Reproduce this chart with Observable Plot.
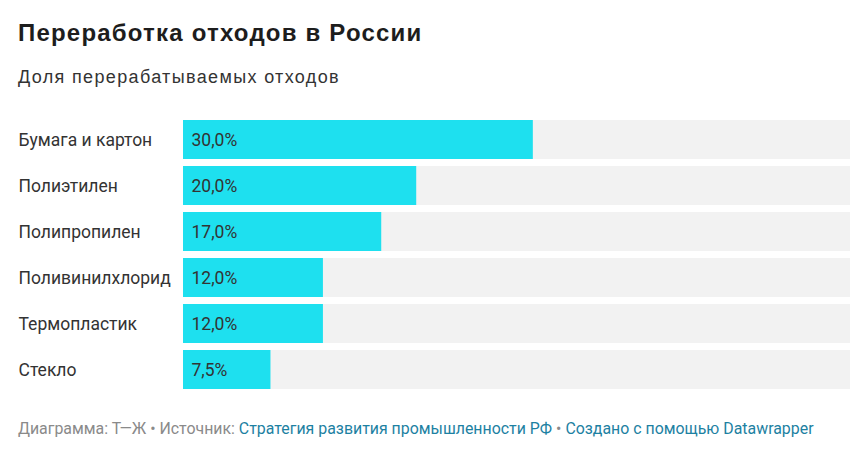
<!DOCTYPE html>
<html><head><meta charset="utf-8">
<script src="https://cdn.jsdelivr.net/npm/d3@7"></script>
<script src="https://cdn.jsdelivr.net/npm/@observablehq/plot@0.6"></script>
<style>
body{margin:0;background:#fff;font-family:Roboto,"Noto Sans",sans-serif;}
#wrap{width:850px;height:457px;position:relative;overflow:hidden}
#title{position:absolute;left:18px;top:20px;font-family:"Liberation Sans",Arial,sans-serif;font-size:24px;font-weight:700;letter-spacing:1.2px;color:#1d1d1d;white-space:nowrap;line-height:26px}
#sub{position:absolute;left:18px;top:66px;font-family:"Liberation Sans",Arial,sans-serif;font-size:18px;letter-spacing:1.35px;color:#333;white-space:nowrap;line-height:22px}
#chart{position:absolute;left:0;top:110px}
#foot{position:absolute;left:18px;top:419px;font-size:15.9px;color:#8a8a8a;white-space:nowrap;line-height:20px}
#foot a{color:#1d81a2;text-decoration:none}
</style></head>
<body><div id="wrap">
<div id="title">Переработка отходов в России</div>
<div id="sub">Доля перерабатываемых отходов</div>
<div id="chart"></div>
<div id="foot">Диаграмма: Т—Ж • Источник: <a>Стратегия развития промышленности РФ</a> • <a>Создано с помощью Datawrapper</a></div>
</div>
<script>
const categories = ["Бумага и картон","Полиэтилен","Полипропилен","Поливинилхлорид","Термопластик","Стекло"];
const values = [30.0, 20.0, 17.0, 12.0, 12.0, 7.5];
const valueLabels = ["30,0%","20,0%","17,0%","12,0%","12,0%","7,5%"];
const xMax = 57.2;

const data = categories.map((c,i)=>({cat:c, v:values[i], label:valueLabels[i]}));

const chart = Plot.plot({
  width: 850, height: 290,
  marginLeft: 183, marginRight: 0, marginTop: 10, marginBottom: 10,
  style:{fontFamily:"Roboto, sans-serif", fontSize:"17.5px"},
  x:{domain:[0,xMax], axis:null},
  y:{domain:categories, axis:null, paddingInner:0.15, paddingOuter:0},
  marks:[
    Plot.barX(data,{y:"cat", x1:0, x2:()=>xMax, fill:"#f2f2f2"}),
    Plot.barX(data,{y:"cat", x:"v", fill:"#1ee0ef"}),
    Plot.text(data,{y:"cat", x:0, text:"label", textAnchor:"start", dx:8, fill:"#333", fontSize:17.5}),
    Plot.text(data,{y:"cat", text:"cat", frameAnchor:"left", textAnchor:"start", dx:-165, fill:"#333", fontSize:17.5})
  ]
});
document.getElementById("chart").appendChild(chart);
</script>
</body></html>
